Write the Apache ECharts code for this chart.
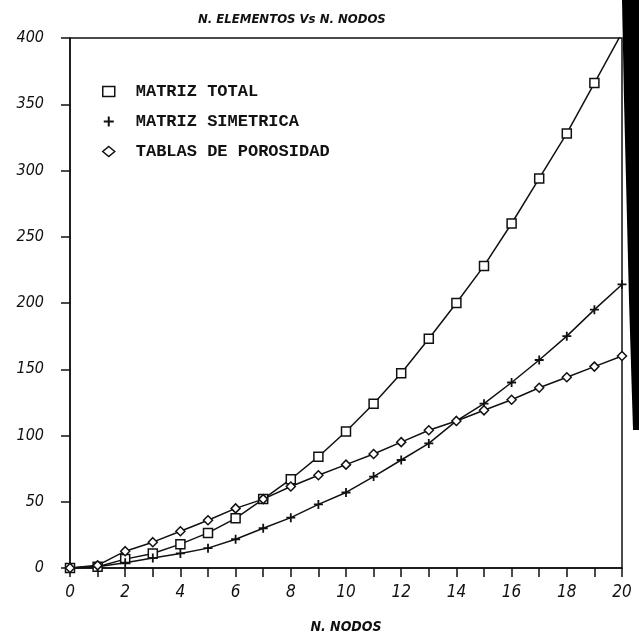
<!DOCTYPE html>
<html>
<head>
<meta charset="utf-8">
<script src="https://cdn.jsdelivr.net/npm/echarts@6/dist/echarts.min.js"></script>
<style>html,body{margin:0;padding:0;background:#fff}#c{width:639px;height:639px}</style>
</head>
<body>
<div id="c"></div>
<script>
const nodos = [0,1,2,3,4,5,6,7,8,9,10,11,12,13,14,15,16,17,18,19,20];
const matrizTotal = [0,1,6.7,11,18,26.5,37.5,52,67,84,103,124,147,173,200,228,260,294,328,366,404];
const matrizSimetrica = [0,1,4,7.5,11,15,21.7,30,38,48,57,69,81.5,94,111,124,140,157,175,195,214];
const tablasPorosidad = [0,2,12.7,19.5,27.7,36,45,52,61.5,70,78,86,95,104,111,119,127,136,144,152,160];
const yTicks = [0,50,100,150,200,250,300,350,400];

const narrow = "'Liberation Sans Narrow','DejaVu Sans Condensed','Liberation Sans'";
const plusPath = 'path://M4,0H6V4H10V6H6V10H4V6H0V4H4Z';
function pairs(ys){ return nodos.map((x,i)=>[x, ys[i]]); }

const chart = echarts.init(document.getElementById('c'));
chart.setOption({
  backgroundColor: '#fff',
  animation: false,
  title: {
    text: 'N. ELEMENTOS Vs N. NODOS',
    left: 193, top: 8,
    textStyle: {fontFamily: narrow, fontStyle: 'italic', fontWeight: 'bold', fontSize: 13, color: '#111'}
  },
  legend: {
    orient: 'vertical', left: 97, top: 78, itemGap: 13,
    itemWidth: 12, itemHeight: 10,
    textStyle: {fontFamily: "'Liberation Mono','DejaVu Sans Mono'", fontWeight: 'bold', fontSize: 17, color: '#111', padding: [0,0,0,16]},
    data: [
      {name: 'MATRIZ TOTAL', icon: 'rect', itemStyle: {color: '#fff', borderColor: '#111', borderWidth: 1.5}},
      {name: 'MATRIZ SIMETRICA', icon: plusPath, itemStyle: {color: '#111', borderWidth: 0}},
      {name: 'TABLAS DE POROSIDAD', icon: 'diamond', itemStyle: {color: '#fff', borderColor: '#111', borderWidth: 1.5}}
    ]
  },
  grid: {left: 70, right: 17, top: 38, bottom: 67, show: true, borderColor: '#111', borderWidth: 1.5, backgroundColor: 'transparent'},
  xAxis: {
    type: 'value', min: 0, max: 20, interval: 1,
    name: 'N. NODOS', nameLocation: 'middle', nameGap: 52,
    nameTextStyle: {fontFamily: narrow, fontStyle: 'italic', fontWeight: 'bold', fontSize: 14, color: '#111'},
    axisLine: {lineStyle: {color: '#111', width: 1.5}},
    axisTick: {length: 9, lineStyle: {color: '#111', width: 1.5}},
    splitLine: {show: false},
    axisLabel: {margin: 16, fontFamily: narrow, fontStyle: 'italic', fontSize: 17, color: '#111',
      formatter: v => (v % 2 === 0 ? String(v) : '')}
  },
  yAxis: {
    type: 'value', min: 0, max: 400, interval: 50,
    axisLine: {lineStyle: {color: '#111', width: 1.5}},
    axisTick: {length: 9, lineStyle: {color: '#111', width: 1.5}},
    splitLine: {show: false},
    axisLabel: {margin: 26, fontFamily: narrow, fontStyle: 'italic', fontSize: 16, color: '#111',
      formatter: v => (yTicks.indexOf(v) >= 0 ? String(v) : '')}
  },
  series: [
    {name: 'MATRIZ TOTAL', type: 'line', data: pairs(matrizTotal), symbol: 'rect', symbolSize: 9,
     lineStyle: {color: '#111', width: 1.5}, itemStyle: {color: '#fff', borderColor: '#111', borderWidth: 1.5}},
    {name: 'MATRIZ SIMETRICA', type: 'line', data: pairs(matrizSimetrica), symbol: plusPath, symbolSize: 9,
     lineStyle: {color: '#111', width: 1.5}, itemStyle: {color: '#111', borderWidth: 0}},
    {name: 'TABLAS DE POROSIDAD', type: 'line', data: pairs(tablasPorosidad), symbol: 'diamond', symbolSize: 9,
     lineStyle: {color: '#111', width: 1.5}, itemStyle: {color: '#fff', borderColor: '#111', borderWidth: 1.5}}
  ],
  graphic: [
    {type: 'polygon', shape: {points: [[622,0],[639,0],[639,430],[633,430],[629,300],[624,100]]}, style: {fill: '#000'}, silent: true}
  ]
});
</script>
</body>
</html>
